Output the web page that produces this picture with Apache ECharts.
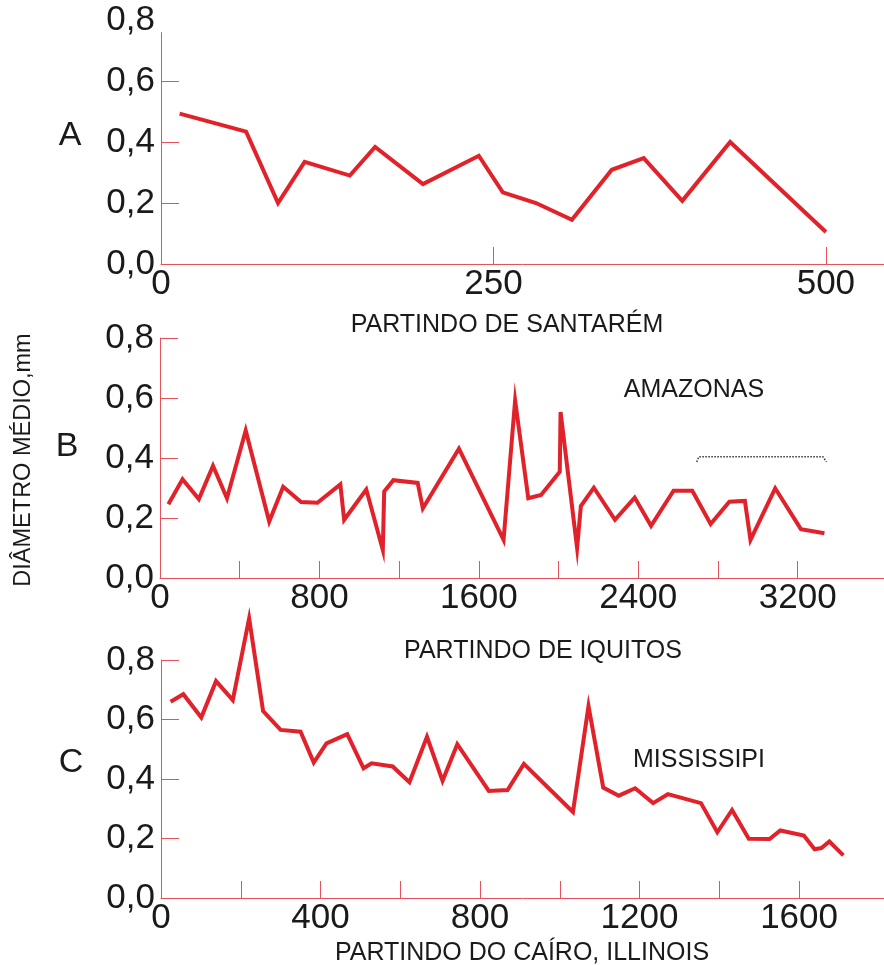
<!DOCTYPE html>
<html>
<head>
<meta charset="utf-8">
<script src="https://cdn.jsdelivr.net/npm/echarts@6/dist/echarts.min.js"></script>
<style>
html,body{margin:0;padding:0;background:#fff;}
#chart{width:884px;height:965px;}
</style>
</head>
<body>
<div id="chart"></div>
<script>
// ---- Panel A: Amazonas, partindo de Santarém ----
const xA = [14, 64, 88, 108, 142, 161, 197, 239, 257, 282, 309, 339, 363, 392, 428, 500];
const yA = [0.493, 0.434, 0.200, 0.335, 0.290, 0.384, 0.262, 0.355, 0.235, 0.200, 0.145, 0.309, 0.347, 0.207, 0.400, 0.105];

// ---- Panel B: Amazonas, partindo de Iquitos ----
const xB = [42, 113, 195, 266, 336, 430, 548, 618, 708, 790, 905, 924, 1035, 1118, 1125, 1171, 1293, 1319, 1500, 1724, 1782, 1848, 1912, 2006, 2010, 2093, 2112, 2177, 2283, 2382, 2464, 2577, 2671, 2763, 2857, 2935, 2963, 3087, 3216, 3334];
const yB = [0.246, 0.329, 0.263, 0.374, 0.266, 0.492, 0.188, 0.304, 0.253, 0.251, 0.312, 0.194, 0.295, 0.094, 0.288, 0.326, 0.317, 0.232, 0.431, 0.127, 0.592, 0.266, 0.277, 0.354, 0.553, 0.100, 0.240, 0.301, 0.194, 0.268, 0.174, 0.291, 0.291, 0.180, 0.254, 0.257, 0.127, 0.299, 0.163, 0.149];
const bracketX = [2693, 2704, 3327, 3344];
const bracketY = [0.387, 0.404, 0.404, 0.387];

// ---- Panel C: Mississipi, partindo do Cairo, Illinois ----
const xC = [24, 56, 101, 138, 180, 221, 256, 300, 350, 383, 415, 467, 508, 528, 581, 623, 667, 706, 743, 822, 869, 910, 1033, 1072, 1109, 1148, 1189, 1234, 1271, 1354, 1395, 1432, 1474, 1526, 1553, 1612, 1639, 1656, 1676, 1711];
const yC = [0.660, 0.685, 0.607, 0.729, 0.665, 0.940, 0.628, 0.565, 0.559, 0.455, 0.520, 0.551, 0.436, 0.453, 0.442, 0.389, 0.542, 0.394, 0.517, 0.360, 0.363, 0.451, 0.289, 0.645, 0.371, 0.344, 0.369, 0.319, 0.349, 0.319, 0.221, 0.296, 0.199, 0.198, 0.227, 0.210, 0.164, 0.168, 0.190, 0.143];

// ---- tick labels / ticks ----
const yLabels = [0, 0.2, 0.4, 0.6, 0.8];
const yTicksA = [0.2, 0.4, 0.6];
const yTicksBC = [0.2, 0.4, 0.6, 0.8];
const yAxisTopA = 0.76;
const xLabelsA = [0, 250, 500];
const xTicksA = [250, 500];
const xLabelsB = [0, 800, 1600, 2400, 3200];
const xTicksB = [400, 800, 1200, 1600, 2000, 2400, 2800, 3200];
const xLabelsC = [0, 400, 800, 1200, 1600];
const xTicksC = [200, 400, 600, 800, 1000, 1200, 1400, 1600];

const zip = (xs, ys) => xs.map((x, i) => [x, ys[i]]);

const FONT = "'Liberation Sans', Arial, Helvetica, sans-serif";
const AXIS_COLOR = '#e8505a';
const LINE_COLOR = '#e1222a';
const TEXT_COLOR = '#1a1a1a';

function xAxisDef(gi, max, labels, ticks) {
  return {
    type: 'value', gridIndex: gi, min: 0, max: max,
    axisLine: { show: true, onZero: false, lineStyle: { color: AXIS_COLOR, width: 1 } },
    axisTick: { show: true, inside: true, length: 17, customValues: ticks, lineStyle: { color: AXIS_COLOR, width: 1 } },
    axisLabel: { show: true, customValues: labels, margin: 3, fontSize: 35, color: TEXT_COLOR, fontFamily: FONT,
      formatter: v => String(v) },
    splitLine: { show: false }
  };
}
function yAxisDef(gi, ticks, showLine) {
  return {
    type: 'value', gridIndex: gi, min: 0, max: 0.8,
    axisLine: { show: showLine, lineStyle: { color: AXIS_COLOR, width: 1 } },
    axisTick: { show: true, inside: true, length: 18, customValues: ticks, lineStyle: { color: AXIS_COLOR, width: 1 } },
    axisLabel: { show: true, customValues: yLabels, margin: 6, fontSize: 35, color: TEXT_COLOR, fontFamily: FONT,
      formatter: v => v.toFixed(1).replace('.', ',') },
    splitLine: { show: false }
  };
}
function lineSeries(gi, data) {
  return {
    type: 'line', xAxisIndex: gi, yAxisIndex: gi, data: data,
    symbol: 'none', smooth: false, clip: false, animation: false,
    lineStyle: { color: LINE_COLOR, width: 4, cap: 'butt', join: 'miter', miterLimit: 10 }
  };
}

const chart = echarts.init(document.getElementById('chart'), null, { renderer: 'canvas' });

const textStyle = (text, size) => ({ text: text, fill: TEXT_COLOR, font: size + 'px ' + FONT, align: 'center', verticalAlign: 'middle' });

const seriesA = lineSeries(0, zip(xA, yA));
// panel A's vertical axis line stops a little below the 0,8 label
seriesA.markLine = {
  silent: true, symbol: 'none', animation: false, label: { show: false },
  lineStyle: { color: AXIS_COLOR, width: 1, type: 'solid' },
  data: [[{ coord: [0, 0] }, { coord: [0, yAxisTopA] }]]
};

chart.setOption({
  animation: false,
  backgroundColor: '#ffffff',
  grid: [
    { left: 161, right: 0, top: 20, height: 244 },
    { left: 160, right: 0, top: 338, height: 240 },
    { left: 161, right: 0, top: 660, height: 238 }
  ],
  xAxis: [
    xAxisDef(0, 543.7, xLabelsA, xTicksA),
    xAxisDef(1, 3633, xLabelsB, xTicksB),
    xAxisDef(2, 1813, xLabelsC, xTicksC)
  ],
  yAxis: [
    yAxisDef(0, yTicksA, false),
    yAxisDef(1, yTicksBC, true),
    yAxisDef(2, yTicksBC, true)
  ],
  series: [
    seriesA,
    lineSeries(1, zip(xB, yB)),
    {
      type: 'line', xAxisIndex: 1, yAxisIndex: 1, data: zip(bracketX, bracketY),
      symbol: 'none', animation: false,
      lineStyle: { color: '#333333', width: 1.5, type: 'dotted' }
    },
    lineSeries(2, zip(xC, yC))
  ],
  graphic: [
    { type: 'text', x: 70, y: 136, style: textStyle('A', 34) },
    { type: 'text', x: 67, y: 447, style: textStyle('B', 34) },
    { type: 'text', x: 71, y: 763, style: textStyle('C', 34) },
    { type: 'text', x: 24, y: 460, rotation: Math.PI / 2, style: textStyle('DIÂMETRO MÉDIO,mm', 23.5) },
    { type: 'text', x: 507, y: 325, style: textStyle('PARTINDO DE SANTARÉM', 25) },
    { type: 'text', x: 543, y: 651, style: textStyle('PARTINDO DE IQUITOS', 25) },
    { type: 'text', x: 522, y: 953, style: textStyle('PARTINDO DO CAÍRO, ILLINOIS', 25) },
    { type: 'text', x: 694, y: 390, style: textStyle('AMAZONAS', 25) },
    { type: 'text', x: 699, y: 760, style: textStyle('MISSISSIPI', 25) }
  ]
});
</script>
</body>
</html>
